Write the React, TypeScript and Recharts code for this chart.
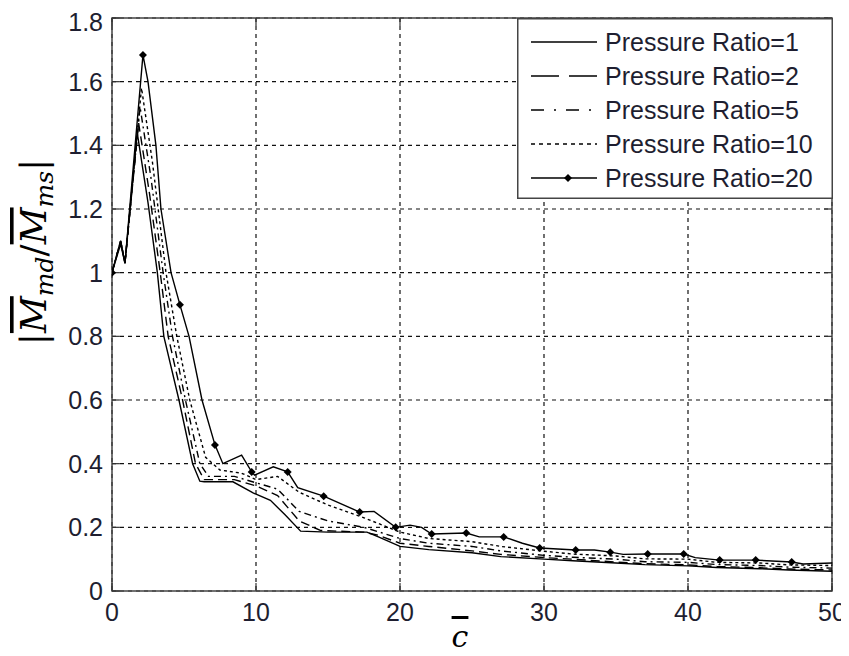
import React from 'react';
import {
  ComposedChart,
  Line,
  XAxis,
  YAxis,
  CartesianGrid,
  ReferenceArea,
  ReferenceLine,
  Legend,
} from 'recharts';

// ---------- data ----------
const xTicks = [0, 10, 20, 30, 40, 50];
const yTicks = [0, 0.2, 0.4, 0.6, 0.8, 1, 1.2, 1.4, 1.6, 1.8];
const seriesNames = [
  'Pressure Ratio=1',
  'Pressure Ratio=2',
  'Pressure Ratio=5',
  'Pressure Ratio=10',
  'Pressure Ratio=20',
];

const pr1X = [0, 0.6, 0.9, 1.75, 2.5, 3.15, 3.6, 4.65, 5.6, 6.1, 6.4, 8.4, 9.8, 11.0, 12.0, 13.1, 15.0, 17.7, 18.5, 20.0, 22.0, 25.0, 27.0, 30.0, 32.0, 35.0, 37.0, 40.0, 42.0, 45.0, 47.0, 50.0];
const pr1Y = [1.0, 1.1, 1.03, 1.44, 1.22, 1.0, 0.8, 0.6, 0.4, 0.345, 0.343, 0.343, 0.308, 0.285, 0.24, 0.188, 0.185, 0.185, 0.17, 0.14, 0.13, 0.12, 0.108, 0.1, 0.095, 0.088, 0.083, 0.079, 0.074, 0.07, 0.066, 0.062];

const pr2X = [0, 0.6, 0.9, 1.85, 2.6, 3.35, 3.9, 4.9, 5.8, 6.4, 8.5, 10.0, 11.5, 13.0, 14.5, 17.5, 18.5, 20.0, 22.0, 25.0, 27.0, 30.0, 32.0, 35.0, 37.0, 40.0, 42.0, 45.0, 47.0, 50.0];
const pr2Y = [1.0, 1.1, 1.03, 1.47, 1.25, 1.0, 0.8, 0.6, 0.4, 0.35, 0.35, 0.33, 0.3, 0.22, 0.19, 0.185, 0.175, 0.15, 0.14, 0.126, 0.115, 0.105, 0.1, 0.091, 0.086, 0.082, 0.077, 0.073, 0.069, 0.066];

const pr5X = [0, 0.6, 0.9, 1.95, 2.7, 3.55, 4.2, 5.1, 6.1, 6.7, 8.5, 10.0, 11.5, 13.0, 15.0, 17.5, 20.0, 22.0, 25.0, 27.0, 30.0, 32.0, 35.0, 37.0, 40.0, 42.0, 45.0, 47.0, 50.0];
const pr5Y = [1.0, 1.1, 1.03, 1.52, 1.3, 1.0, 0.8, 0.6, 0.4, 0.36, 0.36, 0.34, 0.32, 0.25, 0.22, 0.2, 0.165, 0.15, 0.14, 0.126, 0.112, 0.106, 0.1, 0.092, 0.09, 0.083, 0.08, 0.075, 0.072];

const pr10X = [0, 0.6, 0.9, 2.05, 2.8, 3.75, 4.5, 5.4, 6.5, 7.5, 9.0, 10.0, 11.5, 13.0, 15.0, 17.5, 20.0, 22.0, 25.0, 27.0, 30.0, 32.0, 35.0, 37.0, 40.0, 42.0, 45.0, 47.0, 50.0];
const pr10Y = [1.0, 1.1, 1.03, 1.58, 1.35, 1.0, 0.8, 0.6, 0.42, 0.38, 0.37, 0.35, 0.36, 0.31, 0.27, 0.23, 0.185, 0.165, 0.155, 0.14, 0.125, 0.116, 0.11, 0.101, 0.1, 0.09, 0.088, 0.082, 0.08];

const pr20X = [0, 0.6, 0.9, 2.15, 2.5, 3.05, 3.4, 4.1, 4.72, 5.35, 6.25, 7.15, 7.7, 9.0, 9.7, 9.9, 11.2, 12.2, 12.9, 14.7, 17.2, 18.2, 19.7, 20.7, 21.5, 22.2, 24.6, 25.5, 27.2, 28.5, 29.7, 32.2, 33.5, 34.6, 35.5, 37.2, 39.7, 40.5, 42.2, 44.7, 47.2, 48.0, 50.0];
const pr20Y = [1.0, 1.09, 1.03, 1.684, 1.6, 1.4, 1.2, 1.0, 0.899, 0.8, 0.6, 0.459, 0.4, 0.427, 0.374, 0.364, 0.39, 0.374, 0.325, 0.298, 0.248, 0.25, 0.2, 0.207, 0.2, 0.179, 0.182, 0.17, 0.17, 0.15, 0.135, 0.129, 0.129, 0.122, 0.115, 0.116, 0.116, 0.105, 0.097, 0.097, 0.091, 0.085, 0.088];
const pr20Markers = [0, 2.15, 4.72, 7.15, 9.7, 12.2, 14.7, 17.2, 19.7, 22.2, 24.6, 27.2, 29.7, 32.2, 34.6, 37.2, 39.7, 42.2, 44.7, 47.2];

const toPts = (xs: number[], ys: number[]) =>
  xs.map((x, i) => ({ x, y: ys[i], m: pr20Markers.includes(x) }));

const pr1 = toPts(pr1X, pr1Y);
const pr2 = toPts(pr2X, pr2Y);
const pr5 = toPts(pr5X, pr5Y);
const pr10 = toPts(pr10X, pr10Y);
const pr20 = toPts(pr20X, pr20Y);

// ---------- styles ----------
const FONT = '"Liberation Sans", Arial, sans-serif';
const TXT = '#1e1e30';
const dashes = ['', '9 5', '7 4 2 4', '3 3', ''];
const legendDashes = ['', '28 10', '13 10 2 10', '4 4', ''];

const diamond = (cx: number, cy: number, r: number) =>
  `M${cx},${cy - r} L${cx + r},${cy} L${cx},${cy + r} L${cx - r},${cy} Z`;

const MarkerDot = (p: any) => {
  const { cx, cy, payload, index } = p;
  if (!payload || !payload.m) return <g key={`e${index}`} />;
  return <path key={`d${index}`} d={diamond(cx, cy, 4)} fill="#000" stroke="none" />;
};

const LegendBox = () => (
  <svg width={316} height={181} style={{ display: 'block' }}>
    <rect x={0.75} y={0.75} width={314.5} height={179.5} fill="#fff" stroke="#444" strokeWidth={1.5} />
    {seriesNames.map((n, i) => {
      const y = 24 + i * 34;
      return (
        <g key={n}>
          <line x1={14} x2={80} y1={y} y2={y} stroke="#000" strokeWidth={1.5} strokeDasharray={legendDashes[i] || undefined} />
          {i === 4 && <path d={diamond(51, y, 4)} fill="#000" />}
          <text x={88} y={y} dy="0.35em" fontSize={25} fontFamily={FONT} fill={TXT}>
            {n}
          </text>
        </g>
      );
    })}
  </svg>
);

const over = { textDecoration: 'overline' } as React.CSSProperties;

const YTitle = () => (
  <text
    x={0}
    y={0}
    transform="translate(38 244) rotate(-90)"
    textAnchor="middle"
    fontFamily='"DejaVu Serif", serif'
    fontSize={36}
    fill="#000"
  >
    <tspan fontStyle="normal">|</tspan>
    <tspan fontStyle="italic" style={over}>M</tspan>
    <tspan fontStyle="italic" fontSize={25} dy={7}>md</tspan>
    <tspan fontStyle="normal" dy={-7}>/</tspan>
    <tspan fontStyle="italic" style={over}>M</tspan>
    <tspan fontStyle="italic" fontSize={25} dy={7}>ms</tspan>
    <tspan fontStyle="normal" dy={-7}>|</tspan>
  </text>
);

const XTitle = () => (
  <text x={452} y={639} textAnchor="middle" fontFamily='"DejaVu Serif", serif' fontStyle="italic" fontSize={30} fill="#000" style={over}>
    c
  </text>
);

export default function App() {
  const lineProps = { type: 'linear' as const, dataKey: 'y', stroke: '#000', strokeWidth: 1.4, isAnimationActive: false };
  return (
    <div style={{ width: 841, height: 648, marginBottom: -8 }}>
      <ComposedChart width={841} height={648} margin={{ top: 10, right: 17, bottom: 0, left: 0 }}>
        <CartesianGrid stroke="#111" strokeDasharray="4 4" strokeWidth={1.2} />
        <XAxis
          dataKey="x"
          type="number"
          domain={[0, 50]}
          ticks={xTicks}
          height={65}
          axisLine={false}
          tickLine={false}
          tickSize={0}
          tickMargin={12}
          tick={{ fontSize: 25, fontFamily: FONT, fill: TXT }}
          allowDataOverflow
          label={() => <XTitle />}
        />
        <YAxis
          type="number"
          domain={[0, 1.8]}
          ticks={yTicks}
          width={104}
          axisLine={false}
          tickLine={false}
          tickSize={0}
          tickMargin={9}
          tick={{ fontSize: 25, fontFamily: FONT, fill: TXT }}
          allowDataOverflow
          label={() => <YTitle />}
        />
        {yTicks.map((v) => (
          <ReferenceLine key={`yl${v}`} segment={[{ x: 0, y: v }, { x: 0.55, y: v }]} stroke="#333" strokeWidth={1.2} />
        ))}
        {yTicks.map((v) => (
          <ReferenceLine key={`yr${v}`} segment={[{ x: 49.45, y: v }, { x: 50, y: v }]} stroke="#333" strokeWidth={1.2} />
        ))}
        {xTicks.map((v) => (
          <ReferenceLine key={`xb${v}`} segment={[{ x: v, y: 0 }, { x: v, y: 0.025 }]} stroke="#333" strokeWidth={1.2} />
        ))}
        {xTicks.map((v) => (
          <ReferenceLine key={`xt${v}`} segment={[{ x: v, y: 1.775 }, { x: v, y: 1.8 }]} stroke="#333" strokeWidth={1.2} />
        ))}
        <Line {...lineProps} data={pr1} name={seriesNames[0]} dot={false} />
        <Line {...lineProps} data={pr2} name={seriesNames[1]} dot={false} strokeDasharray={dashes[1]} />
        <Line {...lineProps} data={pr5} name={seriesNames[2]} dot={false} strokeDasharray={dashes[2]} />
        <Line {...lineProps} data={pr10} name={seriesNames[3]} dot={false} strokeDasharray={dashes[3]} />
        <Line {...lineProps} data={pr20} name={seriesNames[4]} dot={MarkerDot} activeDot={false} />
        <ReferenceArea x1={0} x2={50} y1={0} y2={1.8} fill="none" fillOpacity={0} stroke="#444" strokeWidth={1.5} ifOverflow="visible" />
        <Legend
          layout="vertical"
          align="center"
          verticalAlign="middle"
          wrapperStyle={{ position: 'absolute', left: 509, top: 10, width: 316, height: 181 }}
          content={() => <LegendBox />}
        />
      </ComposedChart>
    </div>
  );
}
